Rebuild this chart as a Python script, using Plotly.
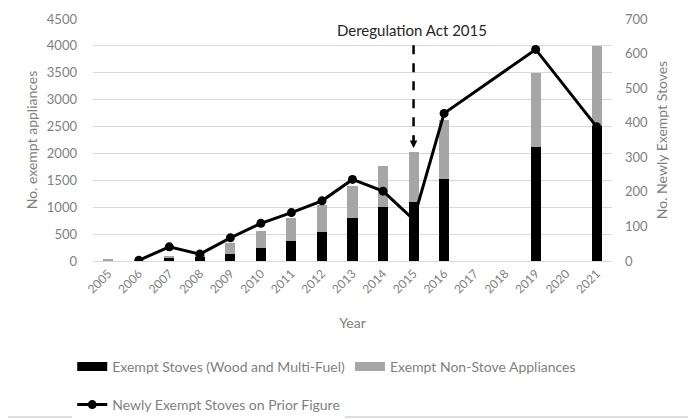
import plotly.graph_objects as go

years = list(range(2005, 2022))
stoves = [0, 0, 55, 90, 130, 242, 372, 545, 794, 998, 1103, 1525, None, None, 2126, None, 2510]
non_stove = [20, 0, 45, 30, 210, 321, 422, 496, 606, 774, 929, 1097, None, None, 1376, None, 1493]
newly_exempt = [None, 2, 41, 20, 67, 109, 140, 174, 236, 202, 120, 427, None, None, 612, None, 388]

left_ticks = list(range(0, 4501, 500))
right_ticks = list(range(0, 701, 100))
act_year = 2015

FONT = "Lato"
GREY_TXT = "#7f7f7f"
BLACK = "#000000"
GREY_BAR = "#a6a6a6"

fig = go.Figure()
fig.add_trace(go.Bar(x=years, y=stoves, name="Exempt Stoves (Wood and Multi-Fuel)", width=0.33,
                     marker=dict(color=BLACK, line=dict(width=0)), showlegend=False))
fig.add_trace(go.Bar(x=years, y=non_stove, name="Exempt Non-Stove Appliances", width=0.33,
                     marker=dict(color=GREY_BAR, line=dict(width=0)), showlegend=False))
# legend-only entries with wide rectangular swatches
fig.add_trace(go.Scatter(x=[None], y=[None], mode="lines", name="Exempt Stoves (Wood and Multi-Fuel)",
                         line=dict(color=BLACK, width=9), legend="legend"))
fig.add_trace(go.Scatter(x=[None], y=[None], mode="lines", name="Exempt Non-Stove Appliances",
                         line=dict(color=GREY_BAR, width=9), legend="legend"))
fig.add_trace(go.Scatter(x=years, y=newly_exempt, name="Newly Exempt Stoves on Prior Figure",
                         yaxis="y2", mode="lines+markers", connectgaps=True,
                         line=dict(color=BLACK, width=3),
                         marker=dict(color=BLACK, size=9), legend="legend2"))

# Deregulation Act annotation
fig.add_shape(type="line", xref="x", yref="y", x0=act_year, x1=act_year, y0=4010, y1=2180,
              line=dict(color=BLACK, width=2.5, dash="dash"))
fig.add_annotation(x=act_year, y=2100, xref="x", yref="y", ax=0, ay=-14,
                   text="", showarrow=True, arrowhead=2, arrowsize=1, arrowwidth=1.5, arrowcolor=BLACK)
fig.add_annotation(x=act_year, y=4300, xref="x", yref="y", text="Deregulation Act 2015",
                   showarrow=False, font=dict(family=FONT, size=15, color="#262626"), xshift=-2)

fig.update_layout(
    width=688, height=411,
    barmode="stack",
    plot_bgcolor="white", paper_bgcolor="white",
    margin=dict(l=85, r=84, t=11, b=158, autoexpand=False),
    font=dict(family=FONT, size=13, color=GREY_TXT),
    xaxis=dict(range=[2004.5, 2021.5], tickvals=years, tickangle=-45, showgrid=False,
               showline=True, linecolor="#d9d9d9", linewidth=1, zeroline=False,
               ticks="", title=dict(text="Year", font=dict(size=14, color=GREY_TXT), standoff=22),
               tickfont=dict(size=12, color=GREY_TXT)),
    yaxis=dict(range=[0, 4500], tickvals=left_ticks, showgrid=True, gridcolor="#d9d9d9",
               zeroline=False, showline=False, ticks="", ticklabelstandoff=15,
               title=dict(text="No. exempt appliances", font=dict(size=14, color=GREY_TXT), standoff=5),
               tickfont=dict(size=13, color=GREY_TXT)),
    yaxis2=dict(range=[0, 700], tickvals=right_ticks, overlaying="y", side="right",
                showgrid=False, zeroline=False, showline=False, ticks="", ticklabelstandoff=12,
                title=dict(text="No. Newly Exempt Stoves", font=dict(size=14, color=GREY_TXT), standoff=10),
                tickfont=dict(size=13, color=GREY_TXT)),
    legend=dict(orientation="h", x=-0.04, y=-0.438, xanchor="left", yanchor="middle",
                font=dict(size=14, color=GREY_TXT), traceorder="normal", itemwidth=30),
    legend2=dict(orientation="h", x=-0.04, y=-0.595, xanchor="left", yanchor="middle",
                 font=dict(size=14, color=GREY_TXT), itemwidth=30),
)
# faint frame (right and bottom edges of the picture)
fig.add_shape(type="line", xref="paper", yref="paper", x0=1 + 78/519, x1=1 + 78/519, y0=-156/242, y1=1 + 11/242,
              line=dict(color="#dedede", width=2), layer="below")
fig.add_shape(type="line", xref="paper", yref="paper", x0=-85/519, x1=1 + 78/519, y0=-156/242, y1=-156/242,
              line=dict(color="#dedede", width=2), layer="below")

fig.write_html("out.html")
